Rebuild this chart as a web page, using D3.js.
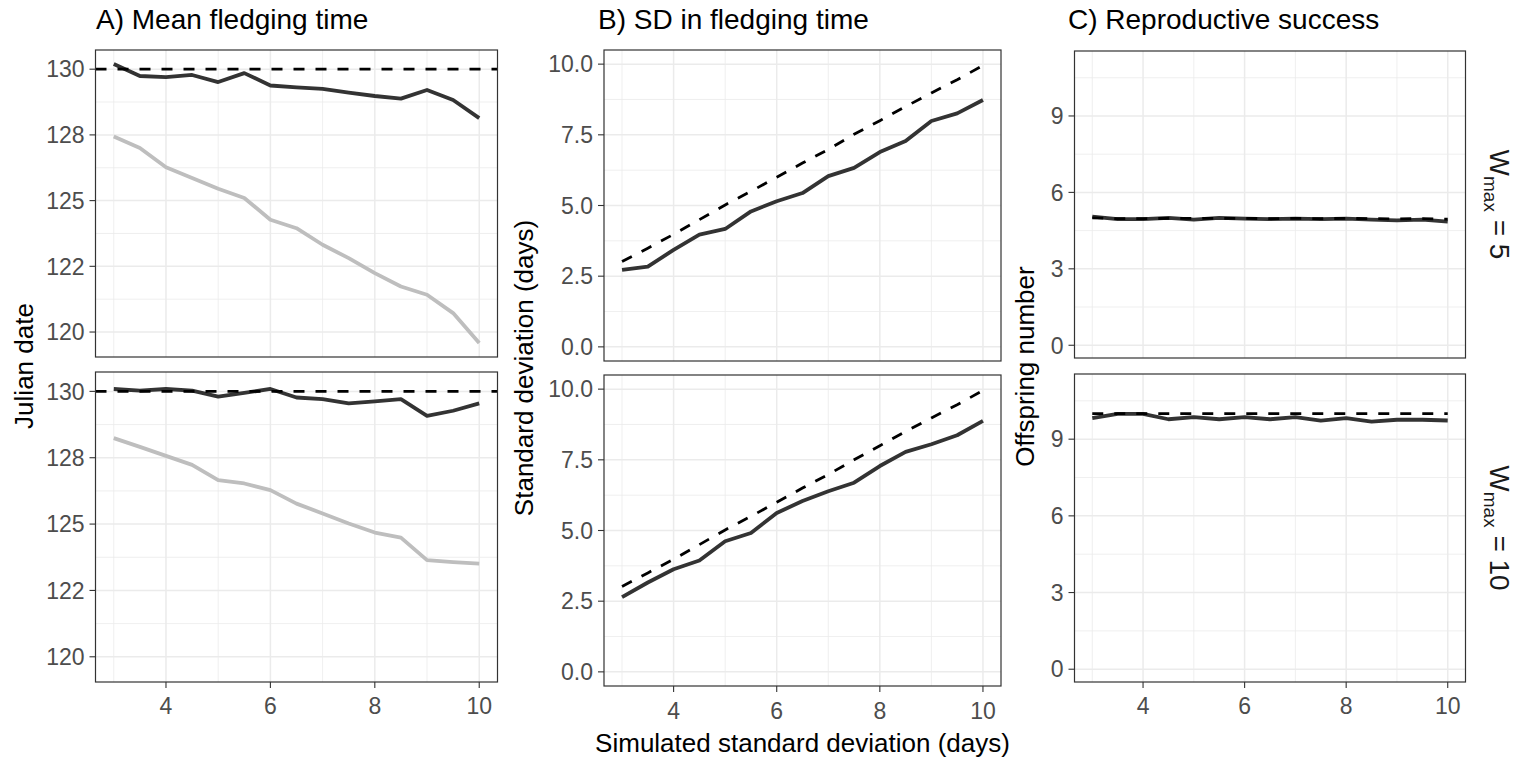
<!DOCTYPE html>
<html><head><meta charset="utf-8">
<script src="https://cdn.jsdelivr.net/npm/d3@7"></script>
<style>
body{margin:0;background:#fff}
svg{display:block}
text{font-family:"Liberation Sans",Arial,Helvetica,sans-serif}
</style>
</head><body>
<svg id="chart" width="1530" height="760"></svg>
<script>
// ---------- DATA ----------
const xVals = [3,3.5,4,4.5,5,5.5,6,6.5,7,7.5,8,8.5,9,9.5,10];
const facetLabels = ["5","10"];

// A) Mean fledging time
const meanTarget = 130;
const meanDark5  = [130.2,129.74,129.7,129.78,129.51,129.85,129.38,129.31,129.25,129.11,128.98,128.88,129.21,128.83,128.14];
const meanGrey5  = [127.44,127.0,126.27,125.86,125.45,125.1,124.27,123.95,123.32,122.81,122.24,121.73,121.42,120.72,119.58];
const meanDark10 = [130.09,130.03,130.09,130.03,129.8,129.94,130.09,129.77,129.71,129.55,129.62,129.71,129.08,129.27,129.55];
const meanGrey10 = [128.24,127.91,127.57,127.23,126.66,126.53,126.28,125.77,125.4,125.02,124.68,124.49,123.64,123.57,123.51];

// B) SD in fledging time
const sdSolid5   = [2.72,2.84,3.43,3.97,4.17,4.79,5.15,5.44,6.04,6.33,6.89,7.28,7.99,8.26,8.73];
const sdDashed5  = [3.02,3.49,3.98,4.5,5.02,5.5,6.0,6.5,6.98,7.52,8.0,8.5,8.98,9.45,9.95];
const sdSolid10  = [2.64,3.16,3.63,3.94,4.62,4.91,5.62,6.04,6.39,6.69,7.28,7.78,8.05,8.37,8.88];
const sdDashed10 = [3.02,3.5,3.98,4.5,5.02,5.5,6.0,6.5,6.98,7.5,8.0,8.5,8.98,9.45,9.95];

// C) Reproductive success
const repSolid5   = [5.05,4.95,4.95,5.0,4.93,5.0,4.97,4.95,4.97,4.95,4.97,4.93,4.9,4.93,4.85];
const repDashed5  = [5.0,4.97,4.97,4.98,4.98,4.98,4.98,4.97,4.98,4.97,4.98,4.97,4.96,4.97,4.95];
const repSolid10  = [9.82,9.99,9.99,9.78,9.86,9.78,9.86,9.78,9.86,9.73,9.82,9.69,9.76,9.76,9.73];
const repDashed10 = [10,10,10,10,10,10,10,10,10,10,10,10,10,10,10];

// Ticks
const xTicks = [4,6,8,10];
const xTickLabels = ["4","6","8","10"];
const xMinor = [3,5,7,9];
const yTicksA = [120,122.5,125,127.5,130];
const yTickLabelsA = ["120","122","125","128","130"];
const yMinorA = [121.25,123.75,126.25,128.75];
const yTicksB = [0,2.5,5,7.5,10];
const yTickLabelsB = ["0.0","2.5","5.0","7.5","10.0"];
const yMinorB = [1.25,3.75,6.25,8.75];
const yTicksC = [0,3,6,9];
const yTickLabelsC = ["0","3","6","9"];
const yMinorC = [1.5,4.5,7.5,10.5];

const titles = ["A) Mean fledging time","B) SD in fledging time","C) Reproductive success"];
const yTitles = ["Julian date","Standard deviation (days)","Offspring number"];
const xTitle = "Simulated standard deviation (days)";

// ---------- LAYOUT ----------
const svg = d3.select("#chart");
const cols = [
  {x0:95.5, x1:497.5, yDom:[119.05,130.73], rows:[[50,357],[372,682]],
   yTicks:yTicksA, yLabels:yTickLabelsA, yMinor:yMinorA, titleX:96, yTitleX:33, xLabBase:714,
   series:[
     [{v:meanGrey5,type:"grey"},{v:meanDark5,type:"solid"}],
     [{v:meanGrey10,type:"grey"},{v:meanDark10,type:"solid"}]
   ], hline:meanTarget},
  {x0:604, x1:1001, yDom:[-0.5,10.5], rows:[[50,361],[375,686]],
   yTicks:yTicksB, yLabels:yTickLabelsB, yMinor:yMinorB, titleX:598, yTitleX:533, xLabBase:719,
   series:[
     [{v:sdSolid5,type:"solid"},{v:sdDashed5,type:"dashed"}],
     [{v:sdSolid10,type:"solid"},{v:sdDashed10,type:"dashed"}]
   ]},
  {x0:1074.5, x1:1465.5, yDom:[-0.5,11.55], rows:[[51,358],[374,682]],
   yTicks:yTicksC, yLabels:yTickLabelsC, yMinor:yMinorC, titleX:1068, yTitleX:1034, xLabBase:714,
   series:[
     [{v:repSolid5,type:"solid"},{v:repDashed5,type:"dashed"}],
     [{v:repSolid10,type:"solid"},{v:repDashed10,type:"dashed"}]
   ]}
];

const gridCol = "#EBEBEB", borderCol = "#333333", tickTextCol = "#4D4D4D";
const styles = {
  solid:{stroke:"#333333", width:3.8, dash:null},
  grey:{stroke:"#BEBEBE", width:3.8, dash:null},
  dashed:{stroke:"#000000", width:2.8, dash:"11,11"}
};

cols.forEach((c, ci) => {
  const x = d3.scaleLinear().domain([2.65,10.35]).range([c.x0, c.x1]);
  svg.append("text").attr("x", c.titleX).attr("y", 29)
    .attr("font-size", 28).attr("fill", "#000").text(titles[ci]);
  const yMid = (c.rows[0][0] + c.rows[1][1]) / 2;
  svg.append("text").attr("transform", `translate(${c.yTitleX},${yMid}) rotate(-90)`)
    .attr("text-anchor","middle").attr("font-size", 26).attr("fill","#000").text(yTitles[ci]);

  c.rows.forEach((r, ri) => {
    const y = d3.scaleLinear().domain(c.yDom).range([r[1], r[0]]);
    const g = svg.append("g");
    g.append("rect").attr("x", c.x0).attr("y", r[0]).attr("width", c.x1 - c.x0).attr("height", r[1] - r[0]).attr("fill","#fff");
    g.selectAll(null).data(xMinor).enter().append("line")
      .attr("x1", d => x(d)).attr("x2", d => x(d)).attr("y1", r[0]).attr("y2", r[1])
      .attr("stroke", gridCol).attr("stroke-width", 0.8);
    g.selectAll(null).data(c.yMinor).enter().append("line")
      .attr("x1", c.x0).attr("x2", c.x1).attr("y1", d => y(d)).attr("y2", d => y(d))
      .attr("stroke", gridCol).attr("stroke-width", 0.8);
    g.selectAll(null).data(xTicks).enter().append("line")
      .attr("x1", d => x(d)).attr("x2", d => x(d)).attr("y1", r[0]).attr("y2", r[1])
      .attr("stroke", gridCol).attr("stroke-width", 1.5);
    g.selectAll(null).data(c.yTicks).enter().append("line")
      .attr("x1", c.x0).attr("x2", c.x1).attr("y1", d => y(d)).attr("y2", d => y(d))
      .attr("stroke", gridCol).attr("stroke-width", 1.5);

    const line = d3.line().x((d,i) => x(xVals[i])).y(d => y(d));
    c.series[ri].forEach(s => {
      const st = styles[s.type];
      g.append("path").attr("d", line(s.v)).attr("fill","none")
        .attr("stroke", st.stroke).attr("stroke-width", st.width)
        .attr("stroke-linejoin","round")
        .attr("stroke-dasharray", st.dash);
    });
    if (c.hline !== undefined) {
      g.append("line").attr("x1", c.x0).attr("x2", c.x1)
        .attr("y1", y(c.hline)).attr("y2", y(c.hline))
        .attr("stroke","#000").attr("stroke-width",2.8).attr("stroke-dasharray","11,11");
    }
    g.append("rect").attr("x", c.x0).attr("y", r[0]).attr("width", c.x1 - c.x0).attr("height", r[1] - r[0])
      .attr("fill","none").attr("stroke", borderCol).attr("stroke-width", 1.2);

    g.selectAll(null).data(c.yTicks).enter().append("line")
      .attr("x1", c.x0 - 6).attr("x2", c.x0).attr("y1", d => y(d)).attr("y2", d => y(d))
      .attr("stroke", borderCol).attr("stroke-width", 1.1);
    g.selectAll(null).data(c.yTicks).enter().append("text")
      .attr("x", c.x0 - 11).attr("y", d => y(d)).attr("dy","0.36em")
      .attr("text-anchor","end").attr("font-size", 23).attr("fill", tickTextCol)
      .text((d,i) => c.yLabels[i]);

    if (ri === 1) {
      g.selectAll(null).data(xTicks).enter().append("line")
        .attr("x1", d => x(d)).attr("x2", d => x(d)).attr("y1", r[1]).attr("y2", r[1] + 6)
        .attr("stroke", borderCol).attr("stroke-width", 1.1);
      g.selectAll(null).data(xTicks).enter().append("text")
        .attr("x", d => x(d)).attr("y", c.xLabBase)
        .attr("text-anchor","middle").attr("font-size", 23).attr("fill", tickTextCol)
        .text((d,i) => xTickLabels[i]);
    }

    if (ci === 2) {
      const cy = (r[0] + r[1]) / 2;
      const t = svg.append("text").attr("transform", `translate(1490,${cy}) rotate(90)`)
        .attr("text-anchor","middle").attr("font-size", 28).attr("fill","#1A1A1A");
      t.append("tspan").text("W");
      t.append("tspan").attr("font-size", 19).attr("dy", 6).text("max");
      t.append("tspan").attr("dy", -6).text(" = " + facetLabels[ri]);
    }
  });
});

svg.append("text").attr("x", (cols[1].x0 + cols[1].x1) / 2).attr("y", 752)
  .attr("text-anchor","middle").attr("font-size", 26).attr("fill","#000").text(xTitle);
</script>
</body></html>
